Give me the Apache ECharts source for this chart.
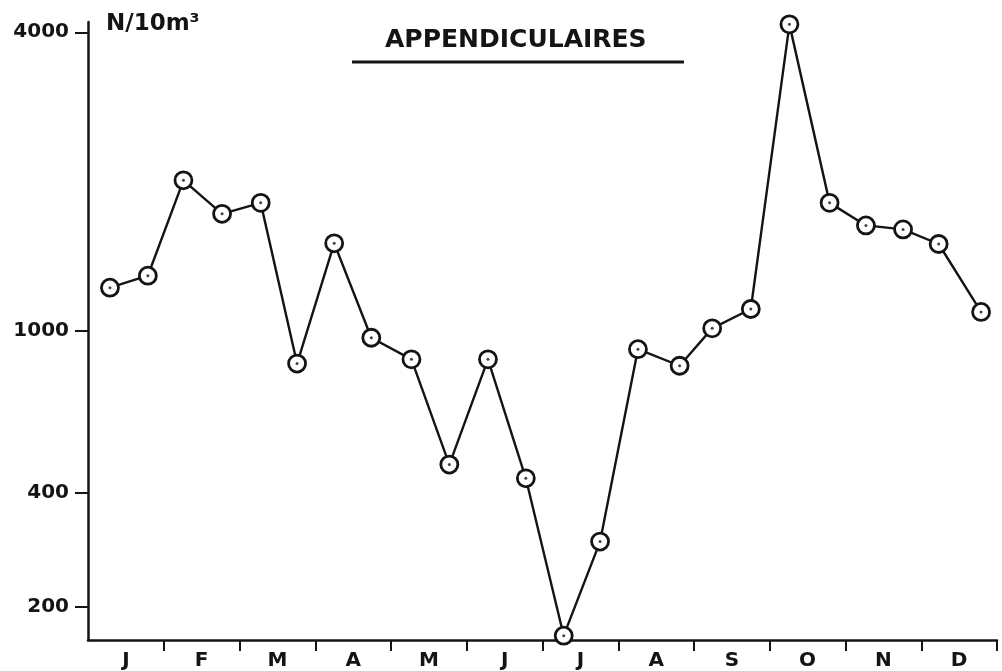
<!DOCTYPE html>
<html>
<head>
<meta charset="utf-8">
<script src="https://cdn.jsdelivr.net/npm/echarts@6/dist/echarts.min.js"></script>
<style>
  html, body { margin: 0; padding: 0; background: #fff; }
  #chart { width: 1002px; height: 671px; }
</style>
</head>
<body>
<div id="chart"></div>
<script>
// month letters on the x axis
const months = ['J', 'F', 'M', 'A', 'M', 'J', 'J', 'A', 'S', 'O', 'N', 'D']
// sampling dates, in months from 1 January
const sampleMonth = [0.29, 0.79, 1.26, 1.77, 2.28, 2.76, 3.25, 3.74, 4.27, 4.77, 5.28, 5.78,
  6.28, 6.76, 7.26, 7.81, 8.24, 8.75, 9.26, 9.79, 10.27, 10.76, 11.23, 11.79]
// appendicularians, N / 10 m3
const abundance = [1220, 1290, 2010, 1720, 1810, 830, 1500, 960, 850, 470, 850, 435,
  168, 298, 900, 820, 1010, 1105, 4150, 1810, 1630, 1600, 1495, 1090]
// y tick labels
const yTicks = [200, 400, 1000, 4000]

// the original vertical scale is logarithmic but not evenly drawn:
// each tick value with its height (px above the x axis) on the source figure
const scaleStops = [[200, 33], [400, 147], [1000, 310], [4000, 608.7]]

const yPos = (v) => {
  const lv = Math.log10(v)
  let i = 0
  while (i < scaleStops.length - 2 && lv > Math.log10(scaleStops[i + 1][0])) i++
  const [v0, p0] = scaleStops[i]
  const [v1, p1] = scaleStops[i + 1]
  const l0 = Math.log10(v0)
  const l1 = Math.log10(v1)
  return p0 + (lv - l0) * (p1 - p0) / (l1 - l0)
}

const tickPos = yTicks.map(yPos)
const points = sampleMonth.map((m, i) => [m, yPos(abundance[i]), abundance[i]])

const ink = '#141414'
const font = '"DejaVu Sans", sans-serif'

const chart = echarts.init(document.getElementById('chart'))

chart.setOption({
  backgroundColor: '#fff',
  animation: false,
  title: [
    {
      text: 'APPENDICULAIRES',
      left: 385,
      top: 28,
      padding: 0,
      textStyle: { fontFamily: font, fontSize: 25, fontWeight: 'bold', color: ink }
    },
    {
      text: 'N/10m³',
      left: 106,
      top: 13,
      padding: 0,
      textStyle: { fontFamily: font, fontSize: 23, fontWeight: 'bold', color: ink }
    }
  ],
  graphic: [
    {
      type: 'line',
      shape: { x1: 352, y1: 62, x2: 684, y2: 62 },
      style: { stroke: ink, lineWidth: 3 }
    }
  ],
  grid: { left: 88, right: 5, top: 22, bottom: 30 },
  xAxis: {
    type: 'value',
    min: 0,
    max: 12,
    splitLine: { show: false },
    axisLine: { show: true, lineStyle: { color: ink, width: 2.5 } },
    axisTick: {
      show: true,
      customValues: [1, 2, 3, 4, 5, 6, 7, 8, 9, 10, 11, 12],
      length: 11,
      lineStyle: { color: ink, width: 2 }
    },
    axisLabel: {
      customValues: months.map((_, i) => i + 0.5),
      formatter: (v) => months[Math.floor(v)],
      margin: 11,
      fontFamily: font,
      fontSize: 20,
      fontWeight: 'bold',
      color: ink
    }
  },
  yAxis: {
    type: 'value',
    min: 0,
    max: 619,
    splitLine: { show: false },
    axisLine: { show: true, lineStyle: { color: ink, width: 2.5 } },
    axisTick: {
      show: true,
      customValues: tickPos,
      length: 13,
      lineStyle: { color: ink, width: 2 }
    },
    axisLabel: {
      customValues: tickPos,
      formatter: (v) => {
        let best = 0
        tickPos.forEach((p, i) => {
          if (Math.abs(p - v) < Math.abs(tickPos[best] - v)) best = i
        })
        return String(yTicks[best])
      },
      margin: 19,
      fontFamily: font,
      fontSize: 20,
      fontWeight: 'bold',
      color: ink
    }
  },
  series: [
    {
      type: 'line',
      data: points,
      symbol: 'circle',
      symbolSize: 17,
      showAllSymbol: true,
      lineStyle: { color: ink, width: 2.4 },
      itemStyle: { color: '#fff', borderColor: ink, borderWidth: 2.8 },
      z: 2
    },
    {
      type: 'scatter',
      data: points,
      symbol: 'circle',
      symbolSize: 3,
      itemStyle: { color: ink },
      z: 3
    }
  ]
})
</script>
</body>
</html>
